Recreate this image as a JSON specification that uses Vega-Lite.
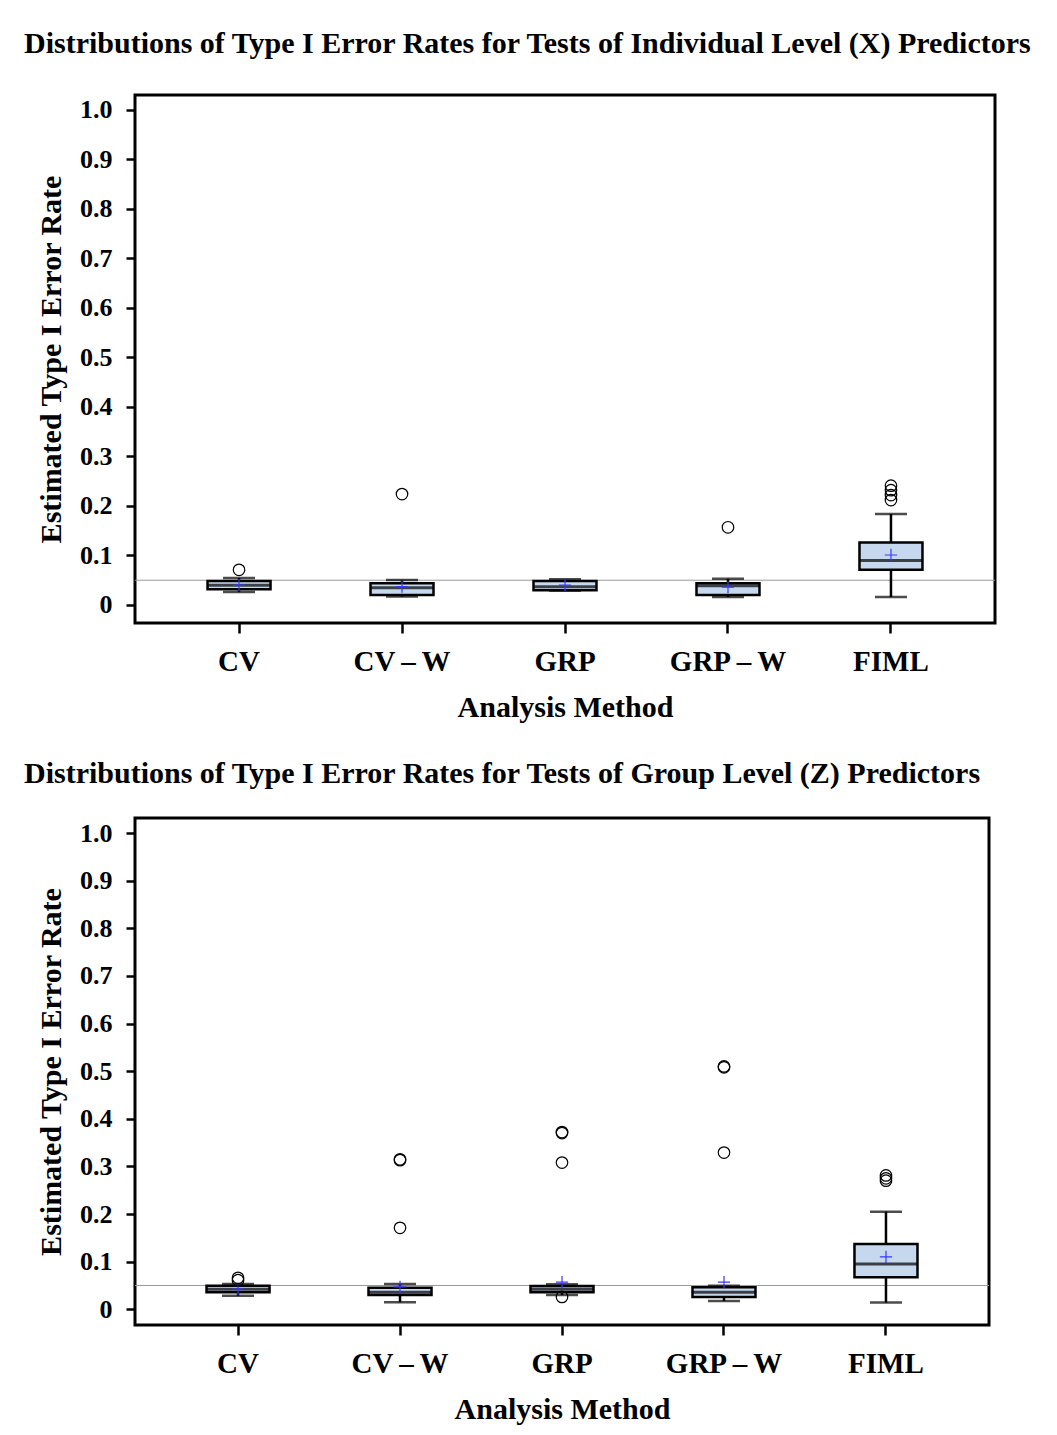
{
  "$schema": "https://vega.github.io/schema/vega-lite/v6.json",
  "background": "white",
  "padding": {"left": 22, "top": 27, "right": 5, "bottom": 5},
  "spacing": 33,
  "datasets": {
    "xbox": [
      {"method": "CV", "lo": 0.026, "q1": 0.032, "median": 0.040, "q3": 0.0485, "hi": 0.0545, "mean": 0.040},
      {"method": "CV-W", "lo": 0.017, "q1": 0.020, "median": 0.035, "q3": 0.044, "hi": 0.0505, "mean": 0.037},
      {"method": "GRP", "lo": 0.029, "q1": 0.030, "median": 0.037, "q3": 0.0485, "hi": 0.052, "mean": 0.040},
      {"method": "GRP-W", "lo": 0.016, "q1": 0.020, "median": 0.039, "q3": 0.044, "hi": 0.053, "mean": 0.036},
      {"method": "FIML", "lo": 0.016, "q1": 0.071, "median": 0.090, "q3": 0.126, "hi": 0.184, "mean": 0.101}
    ],
    "xout": [
      {"method": "CV", "value": 0.071},
      {"method": "CV-W", "value": 0.224},
      {"method": "GRP-W", "value": 0.157},
      {"method": "FIML", "value": 0.241},
      {"method": "FIML", "value": 0.232},
      {"method": "FIML", "value": 0.222},
      {"method": "FIML", "value": 0.212}
    ],
    "zbox": [
      {"method": "CV", "lo": 0.0285, "q1": 0.0357, "median": 0.042, "q3": 0.0495, "hi": 0.053, "mean": 0.0426},
      {"method": "CV-W", "lo": 0.0147, "q1": 0.030, "median": 0.036, "q3": 0.045, "hi": 0.053, "mean": 0.047},
      {"method": "GRP", "lo": 0.030, "q1": 0.036, "median": 0.042, "q3": 0.049, "hi": 0.0525, "mean": 0.057},
      {"method": "GRP-W", "lo": 0.0174, "q1": 0.026, "median": 0.036, "q3": 0.046, "hi": 0.0495, "mean": 0.057},
      {"method": "FIML", "lo": 0.014, "q1": 0.067, "median": 0.095, "q3": 0.137, "hi": 0.205, "mean": 0.110}
    ],
    "zout": [
      {"method": "CV", "value": 0.066},
      {"method": "CV", "value": 0.061},
      {"method": "CV-W", "value": 0.315},
      {"method": "CV-W", "value": 0.313},
      {"method": "CV-W", "value": 0.171},
      {"method": "GRP", "value": 0.372},
      {"method": "GRP", "value": 0.370},
      {"method": "GRP", "value": 0.308},
      {"method": "GRP", "value": 0.026},
      {"method": "GRP-W", "value": 0.510},
      {"method": "GRP-W", "value": 0.508},
      {"method": "GRP-W", "value": 0.329},
      {"method": "FIML", "value": 0.281},
      {"method": "FIML", "value": 0.275},
      {"method": "FIML", "value": 0.270}
    ],
    "ref": [{"level": 0.05}]
  },
  "vconcat": [
    {
      "width": 860,
      "height": 528,
      "title": {"text": "Distributions of Type I Error Rates for Tests of Individual Level (X) Predictors", "offset": 36},
      "layer": [
        {
          "data": {"name": "ref"},
          "mark": {"type": "rule", "color": "#999999", "strokeWidth": 1},
          "encoding": {"y": {"field": "level", "type": "quantitative", "scale": {"domain": [-0.0364, 1.0303], "nice": false, "zero": false}}}
        },
        {
          "data": {"name": "xbox"},
          "layer": [
            {"mark": {"type": "rule", "color": "black", "strokeWidth": 2.5}, "encoding": {"y": {"field": "lo", "type": "quantitative"}, "y2": {"field": "hi"}}},
            {"mark": {"type": "bar", "fill": "#c6d8ee", "stroke": "black", "strokeWidth": 2.5}, "encoding": {"y": {"field": "q1", "type": "quantitative"}, "y2": {"field": "q3"}}},
            {"mark": {"type": "tick", "color": "black", "size": 63, "thickness": 3}, "encoding": {"y": {"field": "median", "type": "quantitative"}}},
            {"mark": {"type": "tick", "color": "black", "size": 32, "thickness": 2.5}, "encoding": {"y": {"field": "lo", "type": "quantitative"}}},
            {"mark": {"type": "tick", "color": "black", "size": 32, "thickness": 2.5}, "encoding": {"y": {"field": "hi", "type": "quantitative"}}},
            {"mark": {"type": "point", "shape": "M-1,0H1M0,-1V1", "filled": false, "stroke": "#3838ff", "strokeWidth": 1.2, "size": 150, "opacity": 1}, "encoding": {"y": {"field": "mean", "type": "quantitative"}}}
          ],
          "encoding": {
            "x": {"field": "method", "type": "nominal", "sort": ["CV", "CV-W", "GRP", "GRP-W", "FIML"], "scale": {"paddingInner": 0.6135, "paddingOuter": 0.445}, "title": "Analysis Method"}
          }
        },
        {
          "data": {"name": "xout"},
          "mark": {"type": "point", "shape": "circle", "filled": false, "stroke": "black", "strokeWidth": 1.2, "size": 133, "opacity": 1},
          "encoding": {
            "x": {"field": "method", "type": "nominal", "sort": ["CV", "CV-W", "GRP", "GRP-W", "FIML"]},
            "y": {"field": "value", "type": "quantitative"}
          }
        }
      ],
      "encoding": {
        "y": {"type": "quantitative", "title": "Estimated Type I Error Rate", "axis": {"values": [0, 0.1, 0.2, 0.3, 0.4, 0.5, 0.6, 0.7, 0.8, 0.9, 1.0], "labelExpr": "datum.value == 0 ? '0' : format(datum.value, '.1f')"}}
      }
    },
    {
      "width": 854,
      "height": 507,
      "title": {"text": "Distributions of Type I Error Rates for Tests of Group Level (Z) Predictors", "offset": 29},
      "layer": [
        {
          "data": {"name": "ref"},
          "mark": {"type": "rule", "color": "#999999", "strokeWidth": 1},
          "encoding": {"y": {"field": "level", "type": "quantitative", "scale": {"domain": [-0.033, 1.0315], "nice": false, "zero": false}}}
        },
        {
          "data": {"name": "zbox"},
          "layer": [
            {"mark": {"type": "rule", "color": "black", "strokeWidth": 2.5}, "encoding": {"y": {"field": "lo", "type": "quantitative"}, "y2": {"field": "hi"}}},
            {"mark": {"type": "bar", "fill": "#c6d8ee", "stroke": "black", "strokeWidth": 2.5}, "encoding": {"y": {"field": "q1", "type": "quantitative"}, "y2": {"field": "q3"}}},
            {"mark": {"type": "tick", "color": "black", "size": 63, "thickness": 3}, "encoding": {"y": {"field": "median", "type": "quantitative"}}},
            {"mark": {"type": "tick", "color": "black", "size": 32, "thickness": 2.5}, "encoding": {"y": {"field": "lo", "type": "quantitative"}}},
            {"mark": {"type": "tick", "color": "black", "size": 32, "thickness": 2.5}, "encoding": {"y": {"field": "hi", "type": "quantitative"}}},
            {"mark": {"type": "point", "shape": "M-1,0H1M0,-1V1", "filled": false, "stroke": "#3838ff", "strokeWidth": 1.2, "size": 150, "opacity": 1}, "encoding": {"y": {"field": "mean", "type": "quantitative"}}}
          ],
          "encoding": {
            "x": {"field": "method", "type": "nominal", "sort": ["CV", "CV-W", "GRP", "GRP-W", "FIML"], "scale": {"paddingInner": 0.611, "paddingOuter": 0.4415}, "title": "Analysis Method"}
          }
        },
        {
          "data": {"name": "zout"},
          "mark": {"type": "point", "shape": "circle", "filled": false, "stroke": "black", "strokeWidth": 1.2, "size": 133, "opacity": 1},
          "encoding": {
            "x": {"field": "method", "type": "nominal", "sort": ["CV", "CV-W", "GRP", "GRP-W", "FIML"]},
            "y": {"field": "value", "type": "quantitative"}
          }
        }
      ],
      "encoding": {
        "y": {"type": "quantitative", "title": "Estimated Type I Error Rate", "axis": {"values": [0, 0.1, 0.2, 0.3, 0.4, 0.5, 0.6, 0.7, 0.8, 0.9, 1.0], "labelExpr": "datum.value == 0 ? '0' : format(datum.value, '.1f')"}}
      }
    }
  ],
  "config": {
    "font": "Liberation Serif",
    "view": {"stroke": "black", "strokeWidth": 3},
    "title": {"font": "Liberation Serif", "fontSize": 30, "fontWeight": "bold", "color": "black", "anchor": "start", "frame": "group", "dx": -111, "baseline": "alphabetic"},
    "axis": {"domain": false, "grid": false, "tickColor": "black", "tickWidth": 2.5, "labelFont": "Liberation Serif", "labelFontSize": 26, "labelFontWeight": "bold", "labelColor": "black", "titleFont": "Liberation Serif", "titleFontSize": 30, "titleFontWeight": "bold", "titleColor": "black"},
    "axisY": {"tickSize": 9, "labelPadding": 14, "titlePadding": 13},
    "axisX": {"tickSize": 10, "labelFontSize": 29, "labelPadding": 14, "titlePadding": 16, "labelAngle": 0, "labelExpr": "replace(datum.label, '-', '\u2009\u2013\u2009')"}
  }
}
